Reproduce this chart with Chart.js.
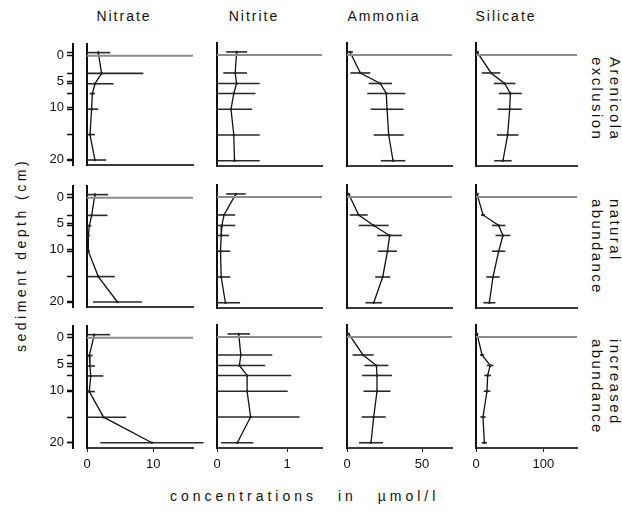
<!DOCTYPE html>
<html>
<head>
<meta charset="utf-8">
<script src="https://cdn.jsdelivr.net/npm/chart.js@4.4.0/dist/chart.umd.min.js"></script>
<style>
  body { margin: 0; background: #fff; width: 622px; height: 521px; position: relative; overflow: hidden;
         font-family: "Liberation Sans", Arial, sans-serif; color: #111; }
  canvas { position: absolute; }
  .lbl { position: absolute; white-space: nowrap; font-size: 14px; letter-spacing: 2px; }
  .head { transform: translateX(-50%); top: 8px; }
  .side { transform: rotate(90deg); transform-origin: 0 0; line-height: 18px; font-size: 15px; letter-spacing: 2.4px; }
</style>
</head>
<body>

<script>
// sample depths (cm), same for every panel
const depths = [-0.6, 3.4, 5.4, 7.3, 10.3, 15.2, 20.1];
const yLabelValues = [0, 5, 10, 20];

const nutrients = ['Nitrate', 'Nitrite', 'Ammonia', 'Silicate'];
const treatments = [['Arenicola', 'exclusion'], ['natural', 'abundance'], ['increased', 'abundance']];
const xMax = [16, 1.5, 70, 150];
const xTicks = [[0, 10], [0, 1], [0, 50], [0, 100]];

// Arenicola exclusion
const nitrateExcl = [1.7, 2.2, 1.2, 0.8, 0.7, 0.45, 1.2];
const nitrateExclSd = [1.8, 6.3, 2.8, 0.4, 1.0, 0.75, 1.7];
const nitriteExcl = [0.28, 0.26, 0.28, 0.24, 0.2, 0.24, 0.25];
const nitriteExclSd = [0.15, 0.17, 0.33, 0.31, 0.3, 0.37, 0.36];
const ammoniaExcl = [2, 8.9, 22.2, 26.2, 26.7, 27.8, 30.7];
const ammoniaExclSd = [2, 6.7, 7.8, 12.7, 11, 10, 8.2];
const silicateExcl = [1.5, 22.3, 42.5, 51, 50, 47, 40];
const silicateExclSd = [3, 13.7, 16, 17, 18, 16, 13];

// natural abundance
const nitrateNat = [1.2, 0.7, 0.35, 0.2, 0.2, 1.7, 4.6];
const nitrateNatSd = [2, 2.4, 0.3, 0.2, 0.2, 2.5, 3.7];
const nitriteNat = [0.27, 0.1, 0.07, 0.06, 0.05, 0.06, 0.12];
const nitriteNatSd = [0.14, 0.16, 0.19, 0.11, 0.14, 0.13, 0.21];
const ammoniaNat = [1.1, 7.8, 17.8, 28.4, 27, 23.8, 17.8];
const ammoniaNatSd = [1, 6, 10, 8.3, 6.3, 5, 5.5];
const silicateNat = [1.5, 10.4, 33.7, 40, 33.7, 25.2, 19.8];
const silicateNatSd = [3, 3, 10, 11, 10, 10, 9];

// increased abundance
const nitrateInc = [1.1, 0.35, 0.45, 0.56, 0.35, 2.5, 9.8];
const nitrateIncSd = [2.4, 0.5, 0.75, 1.9, 0.85, 3.4, 7.8];
const nitriteInc = [0.31, 0.34, 0.32, 0.43, 0.43, 0.48, 0.29];
const nitriteIncSd = [0.16, 0.45, 0.37, 0.63, 0.58, 0.7, 0.23];
const ammoniaInc = [1.1, 10.7, 19.6, 20, 20, 17.8, 16];
const ammoniaIncSd = [1, 7, 8, 10, 9, 8, 8];
const silicateInc = [1.5, 9, 21, 17.3, 16.3, 10.4, 12.4];
const silicateIncSd = [2, 3, 5, 5, 5, 4, 4];

const means = [
  [nitrateExcl, nitriteExcl, ammoniaExcl, silicateExcl],
  [nitrateNat, nitriteNat, ammoniaNat, silicateNat],
  [nitrateInc, nitriteInc, ammoniaInc, silicateInc]
];
const sds = [
  [nitrateExclSd, nitriteExclSd, ammoniaExclSd, silicateExclSd],
  [nitrateNatSd, nitriteNatSd, ammoniaNatSd, silicateNatSd],
  [nitrateIncSd, nitriteIncSd, ammoniaIncSd, silicateIncSd]
];

// layout (pixels)
const panelLeft = [87, 217, 346.5, 476];
const panelWidth = [106, 105, 105, 101];
const headCenter = [124, 254, 384, 506];
const rowTop = [43, 185, 325];
const panelHeight = 123;
const yMin = -2.3, yMax = 21.1;
const FONT = '"Liberation Sans", Arial, sans-serif';

function addText(cls, text, style) {
  const d = document.createElement('div');
  d.className = 'lbl ' + cls;
  d.innerHTML = text;
  Object.assign(d.style, style);
  document.body.appendChild(d);
}

nutrients.forEach((n, c) => addText('head', n, { left: headCenter[c] + 'px' }));
treatments.forEach((t, r) => addText('side', t[0] + '<br>' + t[1], { left: '624px', top: (rowTop[r] + 14) + 'px' }));
addText('', 'sediment depth (cm)', { left: '13px', top: '352px', transform: 'rotate(-90deg)', transformOrigin: '0 0', fontSize: '14px', letterSpacing: '3.5px' });
addText('', 'concentrations in µmol/l', { left: '170px', top: '488px', letterSpacing: '4px', wordSpacing: '13px' });

function makePanel(r, c) {
  const first = c === 0, last = r === 2;
  const padL = first ? 4 : 14, padR = 16, padT = 10, padB = 10;
  const leftAxes = first ? 44 : 0;
  const xAxisH = last ? 26 : 0;
  const cv = document.createElement('canvas');
  const w = padL + leftAxes + panelWidth[c] + padR;
  const h = padT + panelHeight + xAxisH + padB;
  cv.width = w; cv.height = h;
  cv.style.left = (panelLeft[c] - leftAxes - padL) + 'px';
  cv.style.top = (rowTop[r] - padT) + 'px';
  document.body.appendChild(cv);

  const m = means[r][c], sd = sds[r][c];
  const datasets = [];
  // sediment surface line
  datasets.push({ data: [{ x: 0, y: 0 }, { x: xMax[c], y: 0 }], borderColor: '#8c8c8c', borderWidth: 2, pointRadius: 0 });
  // error bars
  depths.forEach((d, i) => {
    datasets.push({ data: [{ x: Math.max(0, m[i] - sd[i]), y: d }, { x: m[i] + sd[i], y: d }],
      borderColor: '#2a2a2a', borderWidth: 1.6, pointRadius: 0, clip: false });
  });
  // profile
  datasets.push({ data: depths.map((d, i) => ({ x: m[i], y: d })), borderColor: '#111', borderWidth: 1.3,
    pointRadius: 1.3, pointBackgroundColor: '#111', pointBorderWidth: 0 });
  datasets.forEach(ds => { ds.showLine = true; });

  const scales = {
    x: {
      type: 'linear', min: 0, max: xMax[c], position: 'bottom',
      border: { color: '#3a3a3a', width: 2 },
      grid: { drawOnChartArea: false, drawTicks: last, tickLength: 4, color: '#222' },
      ticks: { display: last, padding: 5, color: '#111', font: { family: FONT, size: 13 } },
      afterBuildTicks: s => { s.ticks = xTicks[c].map(v => ({ value: v })); },
      afterFit: s => { s.height = xAxisH; }
    },
    y: {
      type: 'linear', reverse: true, min: yMin, max: yMax, position: 'left', weight: 0,
      border: { color: '#111', width: 2 },
      grid: { drawOnChartArea: false, drawTicks: false },
      ticks: { display: false },
      afterFit: s => { s.width = first ? 14 : 0; }
    }
  };
  if (first) {
    scales.yd = {
      type: 'linear', reverse: true, min: yMin, max: yMax, position: 'left', weight: 1,
      border: { color: '#111', width: 2 },
      grid: { drawOnChartArea: false, tickLength: 6, tickWidth: 1.5, tickColor: '#111' },
      afterBuildTicks: s => {
        const vals = depths.concat(yLabelValues).sort((a, b) => a - b);
        s.ticks = vals.map(v => ({ value: v }));
      },
      ticks: {
        autoSkip: false, maxRotation: 0, padding: 3, color: '#111', font: { family: FONT, size: 13 },
        callback: v => (yLabelValues.includes(v) ? String(v) : '')
      },
      afterFit: s => { s.width = 30; }
    };
  }

  new Chart(cv, {
    type: 'scatter',
    data: { datasets },
    options: {
      responsive: false, animation: false, events: [],
      layout: { padding: { left: padL, right: padR, top: padT, bottom: padB } },
      plugins: { legend: { display: false }, tooltip: { enabled: false } },
      scales
    }
  });
}

for (let r = 0; r < 3; r++) for (let c = 0; c < 4; c++) makePanel(r, c);
</script>
</body>
</html>
